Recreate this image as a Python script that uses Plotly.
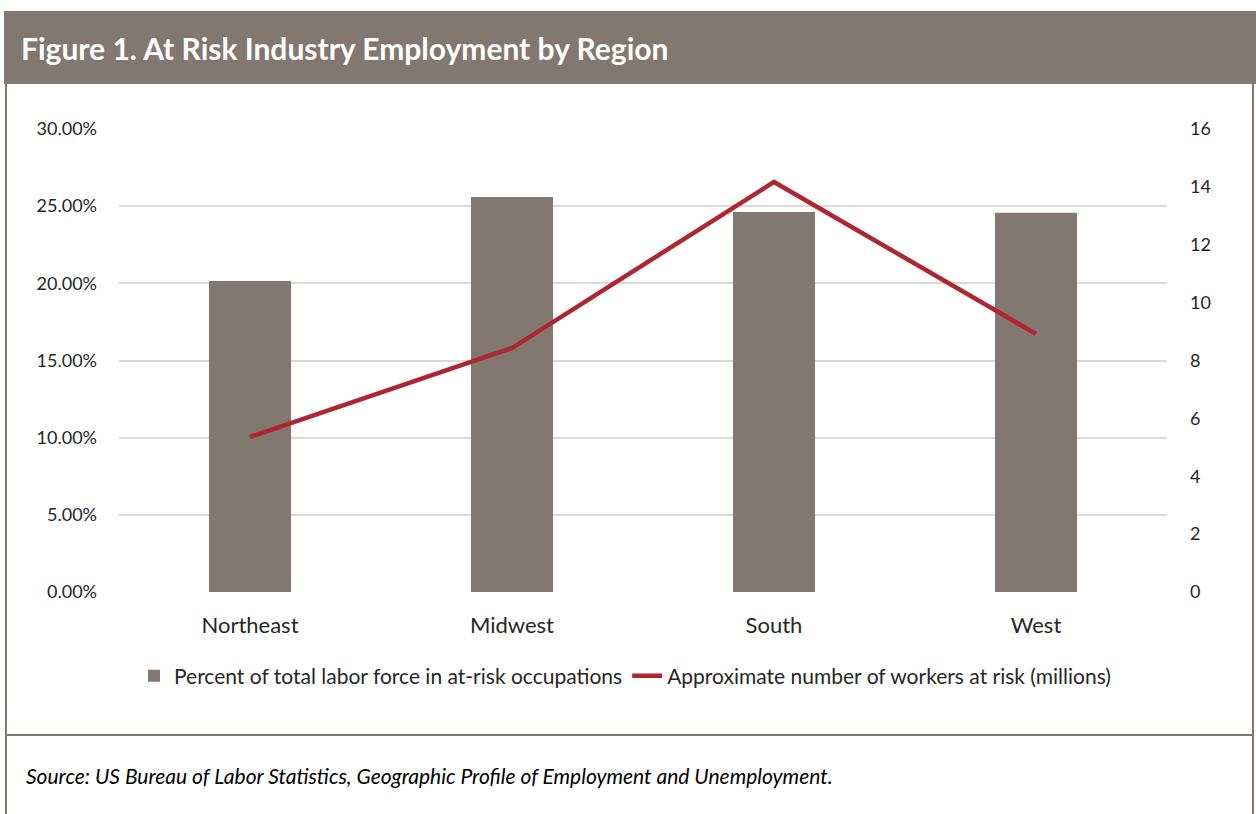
import plotly.graph_objects as go

regions = ["Northeast", "Midwest", "South", "West"]
pct_at_risk = [0.2015, 0.2560, 0.2462, 0.2458]
workers_millions = [5.36, 8.43, 14.17, 8.92]

W, H = 1256, 814
L, R, T, B = 119, 1167, 129, 592
BROWN = "#83786F"
RED = "#AF2630"
FONT = "Lato"


def px(x):
    return (x - L) / (R - L)


def py(y):
    return (B - y) / (B - T)


fig = go.Figure()
fig.add_trace(go.Bar(
    x=regions, y=pct_at_risk, name="Percent of total labor force in at-risk occupations",
    marker=dict(color=BROWN, line=dict(width=0)), yaxis="y",
))
fig.add_trace(go.Scatter(
    x=regions, y=workers_millions, name="Approximate number of workers at risk (millions)",
    mode="lines", line=dict(color=RED, width=4.5), yaxis="y2",
))

shapes = [
    dict(type="rect", xref="paper", yref="paper", x0=px(4), x1=px(1258), y0=py(84), y1=py(11),
         fillcolor=BROWN, line=dict(width=0), layer="below"),
    dict(type="line", xref="paper", yref="paper", x0=px(6), x1=px(6), y0=py(84), y1=py(816),
         line=dict(color=BROWN, width=2)),
    dict(type="line", xref="paper", yref="paper", x0=px(1253), x1=px(1253), y0=py(84), y1=py(816),
         line=dict(color=BROWN, width=2)),
    dict(type="line", xref="paper", yref="paper", x0=px(6), x1=px(1253), y0=py(735), y1=py(735),
         line=dict(color=BROWN, width=2)),
]

annotations = [
    dict(text="<b>Figure 1. At Risk Industry Employment by Region</b>", xref="paper", yref="paper",
         x=px(19), y=py(48), xanchor="left", yanchor="middle", showarrow=False,
         font=dict(family=FONT, size=30, color="white")),
    dict(text="<i>Source: US Bureau of Labor Statistics, Geographic Profile of Employment and Unemployment.</i>",
         xref="paper", yref="paper", x=px(24), y=py(775), xanchor="left", yanchor="middle",
         showarrow=False, font=dict(family=FONT, size=21, color="#000000")),
]

fig.update_layout(
    width=W, height=H,
    margin=dict(l=L, r=W - R, t=T, b=H - B, pad=0),
    paper_bgcolor="white", plot_bgcolor="white",
    font=dict(family=FONT, size=18, color="#262626"),
    bargap=0.687,
    showlegend=True,
    legend=dict(orientation="h", x=px(625), xanchor="center",
                y=py(676), yanchor="middle",
                font=dict(family=FONT, size=21, color="#262626"), traceorder="normal",
                itemwidth=30, bgcolor="rgba(0,0,0,0)"),
    xaxis=dict(showgrid=False, showline=False, zeroline=False, ticks="",
               tickfont=dict(family=FONT, size=22, color="#262626"), ticklabelstandoff=18),
    yaxis=dict(range=[0, 0.30], dtick=0.05, tickformat=".2%", showgrid=True,
               gridcolor="#DDD9D6", gridwidth=2, zeroline=False, showline=False,
               tickfont=dict(family=FONT, size=18, color="#262626"), ticklabelstandoff=21),
    yaxis2=dict(range=[0, 16], dtick=2, overlaying="y", side="right", showgrid=False,
                zeroline=False, showline=False,
                tickfont=dict(family=FONT, size=18, color="#262626"), ticklabelstandoff=22),
    shapes=shapes,
    annotations=annotations,
)

fig.write_html("out.html")
